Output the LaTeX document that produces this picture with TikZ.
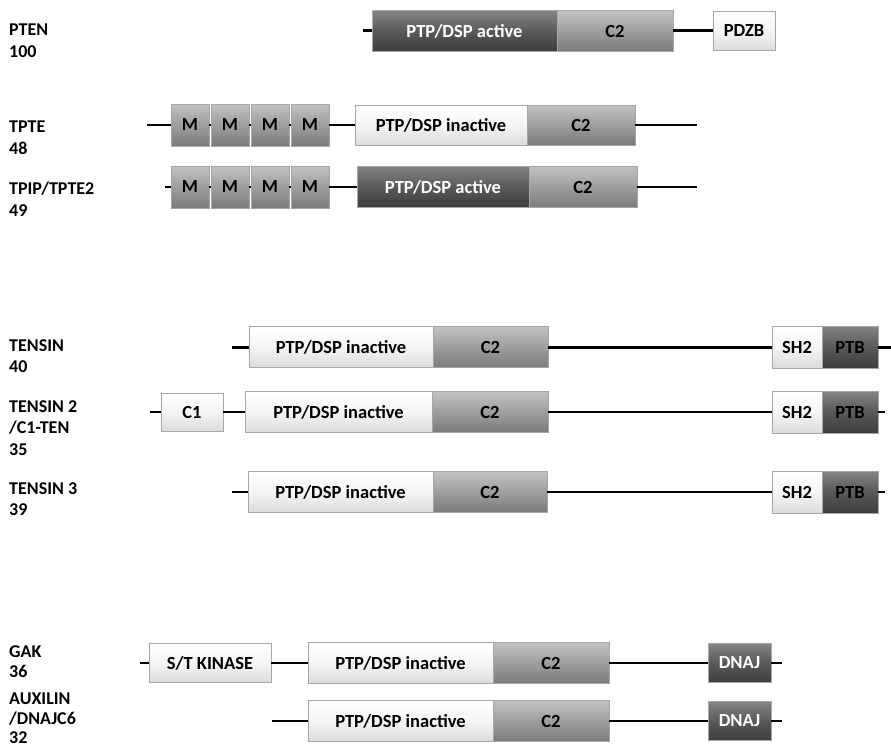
\documentclass[tikz,border=0pt]{standalone}
\usepackage{fontspec}
\setmainfont{Carlito}
\usetikzlibrary{positioning}

\begin{document}
\begin{tikzpicture}[x=1pt, y=-1pt, node distance=0pt,
    dom/.style={draw=black!35, inner sep=0pt, outer sep=0pt, minimum height=41pt, font=\bfseries\fontsize{18.5}{20}\selectfont},
    lightdom/.style={dom, top color=white, bottom color=black!14, middle color=black!4},
    middom/.style={dom, top color=black!24, bottom color=black!52, middle color=black!38},
    darkdom/.style={dom, top color=black!48, bottom color=black!76, middle color=black!65},
    protname/.style={anchor=north west, inner sep=0pt, align=left, font=\bfseries\fontsize{18}{21.5}\selectfont},
    backbone/.style={line width=2pt},
    thickbone/.style={line width=3pt}]

    \useasboundingbox (0,0) rectangle (891,752);

    % protein names
    \node[protname] (pten) at (9,24) {PTEN\\100};
    \node[protname] (tpte) at (9,121) {TPTE\\48};
    \node[protname] (tpip) at (9,182) {TPIP/TPTE2\\49};
    \node[protname] (tensin) at (9,339) {TENSIN\\40};
    \node[protname] (tensintwo) at (9,400) {TENSIN 2\\/C1-TEN\\35};
    \node[protname] (tensinthree) at (9,482) {TENSIN 3\\39};
    \node[protname, font=\bfseries\fontsize{18}{20.5}\selectfont] (gak) at (9,645) {GAK\\36};
    \node[protname, font=\bfseries\fontsize{18}{19.5}\selectfont] (auxilin) at (9,693) {AUXILIN\\/DNAJC6\\32};

    % PTEN
    \coordinate (pten-s) at (363,31);
    \node[darkdom, text=white, minimum width=185pt, anchor=west] (pten-ptp) at (372,31) {PTP/DSP active};
    \node[middom, minimum width=116pt, right=of pten-ptp] (pten-c2) {C2};
    \node[lightdom, minimum width=62pt, minimum height=39pt, anchor=west] (pten-pdzb) at (713,31) {PDZB};
    \draw[thickbone] (pten-s) -- (pten-ptp.west);
    \draw[thickbone] (pten-c2.east) -- (pten-pdzb.west);

    % TPTE
    \coordinate (tpte-s) at (147,125);
    \coordinate (tpte-e) at (697,125);
    \foreach \i/\x in {1/171,2/211,3/251,4/291}
        \node[middom, minimum width=38pt, minimum height=42pt, anchor=west] (tpte-m\i) at (\x,125) {M};
    \node[lightdom, minimum width=172pt, minimum height=40pt, anchor=west] (tpte-ptp) at (355,125) {PTP/DSP inactive};
    \node[middom, minimum width=108pt, minimum height=40pt, right=of tpte-ptp] (tpte-c2) {C2};
    \draw[backbone] (tpte-s) -- (tpte-m1.west);
    \foreach \i/\j in {1/2,2/3,3/4}
        \draw[backbone] (tpte-m\i.east) -- (tpte-m\j.west);
    \draw[backbone] (tpte-m4.east) -- (tpte-ptp.west);
    \draw[backbone] (tpte-c2.east) -- (tpte-e);

    % TPIP/TPTE2
    \coordinate (tpip-s) at (165,187);
    \coordinate (tpip-e) at (697,187);
    \foreach \i/\x in {1/171,2/211,3/251,4/291}
        \node[middom, minimum width=38pt, minimum height=42pt, anchor=west] (tpip-m\i) at (\x,187) {M};
    \node[darkdom, text=white, minimum width=172pt, anchor=west] (tpip-ptp) at (357,187) {PTP/DSP active};
    \node[middom, minimum width=108pt, right=of tpip-ptp] (tpip-c2) {C2};
    \draw[backbone] (tpip-s) -- (tpip-m1.west);
    \foreach \i/\j in {1/2,2/3,3/4}
        \draw[backbone] (tpip-m\i.east) -- (tpip-m\j.west);
    \draw[backbone] (tpip-m4.east) -- (tpip-ptp.west);
    \draw[backbone] (tpip-c2.east) -- (tpip-e);

    % TENSIN
    \coordinate (tensin-s) at (232,347);
    \coordinate (tensin-e) at (891,347);
    \node[lightdom, minimum width=184pt, anchor=west] (tensin-ptp) at (249,347) {PTP/DSP inactive};
    \node[middom, minimum width=115pt, right=of tensin-ptp] (tensin-c2) {C2};
    \node[lightdom, minimum width=50pt, minimum height=42pt, anchor=west] (tensin-sh2) at (772,347) {SH2};
    \node[darkdom, minimum width=56pt, minimum height=42pt, right=of tensin-sh2] (tensin-ptb) {PTB};
    \draw[thickbone] (tensin-s) -- (tensin-ptp.west);
    \draw[thickbone] (tensin-c2.east) -- (tensin-sh2.west);
    \draw[thickbone] (tensin-ptb.east) -- (tensin-e);

    % TENSIN 2
    \coordinate (tensintwo-s) at (150,412);
    \coordinate (tensintwo-e) at (885,412);
    \node[lightdom, minimum width=62pt, minimum height=38pt, anchor=west] (tensintwo-c1) at (161,412) {C1};
    \node[lightdom, minimum width=187pt, anchor=west] (tensintwo-ptp) at (245,412) {PTP/DSP inactive};
    \node[middom, minimum width=116pt, right=of tensintwo-ptp] (tensintwo-c2) {C2};
    \node[lightdom, minimum width=50pt, minimum height=42pt, anchor=west] (tensintwo-sh2) at (772,412) {SH2};
    \node[darkdom, minimum width=56pt, minimum height=42pt, right=of tensintwo-sh2] (tensintwo-ptb) {PTB};
    \draw[backbone] (tensintwo-s) -- (tensintwo-c1.west);
    \draw[backbone] (tensintwo-c1.east) -- (tensintwo-ptp.west);
    \draw[backbone] (tensintwo-c2.east) -- (tensintwo-sh2.west);
    \draw[backbone] (tensintwo-ptb.east) -- (tensintwo-e);

    % TENSIN 3
    \coordinate (tensinthree-s) at (232,492);
    \coordinate (tensinthree-e) at (885,492);
    \node[lightdom, minimum width=185pt, anchor=west] (tensinthree-ptp) at (248,492) {PTP/DSP inactive};
    \node[middom, minimum width=114pt, right=of tensinthree-ptp] (tensinthree-c2) {C2};
    \node[lightdom, minimum width=50pt, minimum height=42pt, anchor=west] (tensinthree-sh2) at (772,492) {SH2};
    \node[darkdom, minimum width=56pt, minimum height=42pt, right=of tensinthree-sh2] (tensinthree-ptb) {PTB};
    \draw[backbone] (tensinthree-s) -- (tensinthree-ptp.west);
    \draw[backbone] (tensinthree-c2.east) -- (tensinthree-sh2.west);
    \draw[backbone] (tensinthree-ptb.east) -- (tensinthree-e);

    % GAK
    \coordinate (gak-s) at (140,663);
    \coordinate (gak-e) at (782,663);
    \node[lightdom, minimum width=122pt, minimum height=39pt, anchor=west] (gak-kin) at (149,663) {S/T KINASE};
    \node[lightdom, minimum width=185pt, anchor=west] (gak-ptp) at (308,663) {PTP/DSP inactive};
    \node[middom, minimum width=116pt, right=of gak-ptp] (gak-c2) {C2};
    \node[darkdom, text=white, minimum width=63pt, minimum height=39pt, anchor=west] (gak-dnaj) at (708,663) {DNAJ};
    \draw[backbone] (gak-s) -- (gak-kin.west);
    \draw[backbone] (gak-kin.east) -- (gak-ptp.west);
    \draw[backbone] (gak-c2.east) -- (gak-dnaj.west);
    \draw[backbone] (gak-dnaj.east) -- (gak-e);

    % AUXILIN
    \coordinate (auxilin-s) at (272,721);
    \coordinate (auxilin-e) at (782,721);
    \node[lightdom, minimum width=185pt, anchor=west] (auxilin-ptp) at (308,721) {PTP/DSP inactive};
    \node[middom, minimum width=116pt, right=of auxilin-ptp] (auxilin-c2) {C2};
    \node[darkdom, text=white, minimum width=63pt, minimum height=39pt, anchor=west] (auxilin-dnaj) at (708,721) {DNAJ};
    \draw[backbone] (auxilin-s) -- (auxilin-ptp.west);
    \draw[backbone] (auxilin-c2.east) -- (auxilin-dnaj.west);
    \draw[backbone] (auxilin-dnaj.east) -- (auxilin-e);

\end{tikzpicture}
\end{document}
